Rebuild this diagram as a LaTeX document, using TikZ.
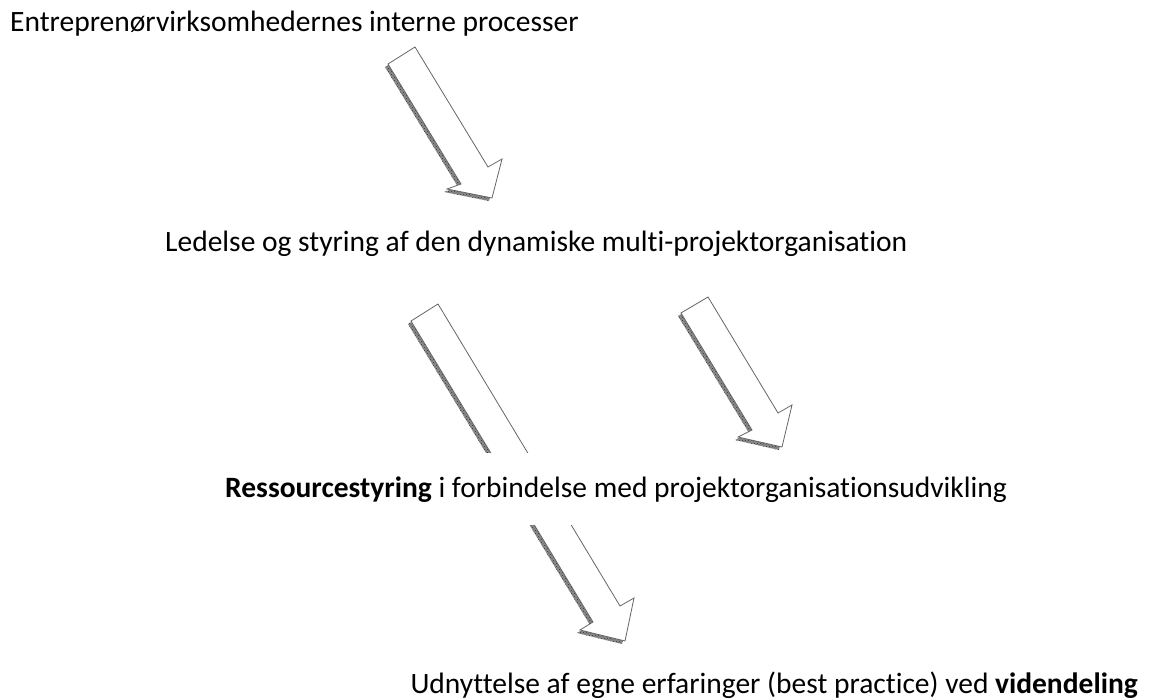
\documentclass[tikz,border=0pt]{standalone}
\usepackage{fontspec}
\setmainfont{Carlito}[Ligatures={NoCommon}]
\usetikzlibrary{patterns}
\begin{document}
\begin{tikzpicture}[x=1pt,y=-1pt,
  lbl/.style={anchor=base west,inner sep=0pt,font=\fontsize{29.5}{34}\selectfont},
  shadowfill/.style={fill=black!45,draw=none},
  shadowdots/.style={pattern=crosshatch dots,pattern color=black!80,draw=none},
  arrowbody/.style={fill=white,draw=black!60,line width=0.8pt,line join=miter}]
\useasboundingbox[fill=white] (0,0) rectangle (1152,700);

% texts
\node[lbl] (t1) at (10,32) {Entreprenørvirksomhedernes interne processer};
\node[lbl] (t2) at (165,252) {Ledelse og styring af den dynamiske multi-projektorganisation};

% arrow 1
\fill[shadowfill,shift={(-3,3)}] (388,64) -- (415,47) -- (488,167) -- (502,159) -- (492,198) -- (447,189) -- (461,184) -- cycle;
\fill[shadowdots,shift={(-3,3)}] (388,64) -- (415,47) -- (488,167) -- (502,159) -- (492,198) -- (447,189) -- (461,184) -- cycle;
\draw[arrowbody] (388,64) -- (415,47) -- (488,167) -- (502,159) -- (492,198) -- (447,189) -- (461,184) -- cycle;

% arrow 3
\fill[shadowfill,shift={(-3,3)}] (681,313) -- (708,297) -- (778,413) -- (792,405) -- (782,447) -- (738,437) -- (752,430) -- cycle;
\fill[shadowdots,shift={(-3,3)}] (681,313) -- (708,297) -- (778,413) -- (792,405) -- (782,447) -- (738,437) -- (752,430) -- cycle;
\draw[arrowbody] (681,313) -- (708,297) -- (778,413) -- (792,405) -- (782,447) -- (738,437) -- (752,430) -- cycle;

% arrow 2 (long)
\fill[shadowfill,shift={(-3,3)}] (411,321) -- (438,304) -- (620,606) -- (634,598) -- (625,641) -- (580,630) -- (593,622) -- cycle;
\fill[shadowdots,shift={(-3,3)}] (411,321) -- (438,304) -- (620,606) -- (634,598) -- (625,641) -- (580,630) -- (593,622) -- cycle;
\draw[arrowbody] (411,321) -- (438,304) -- (620,606) -- (634,598) -- (625,641) -- (580,630) -- (593,622) -- cycle;

\node[lbl,fill=white,text height=44pt,text depth=28pt] (t3) at (225,497) {\textbf{Ressourcestyring} i forbindelse med projektorganisationsudvikling};
\node[lbl,anchor=base east] (t4) at (1138,693) {Udnyttelse af egne erfaringer (best practice) ved \textbf{videndeling}};
\end{tikzpicture}
\end{document}
